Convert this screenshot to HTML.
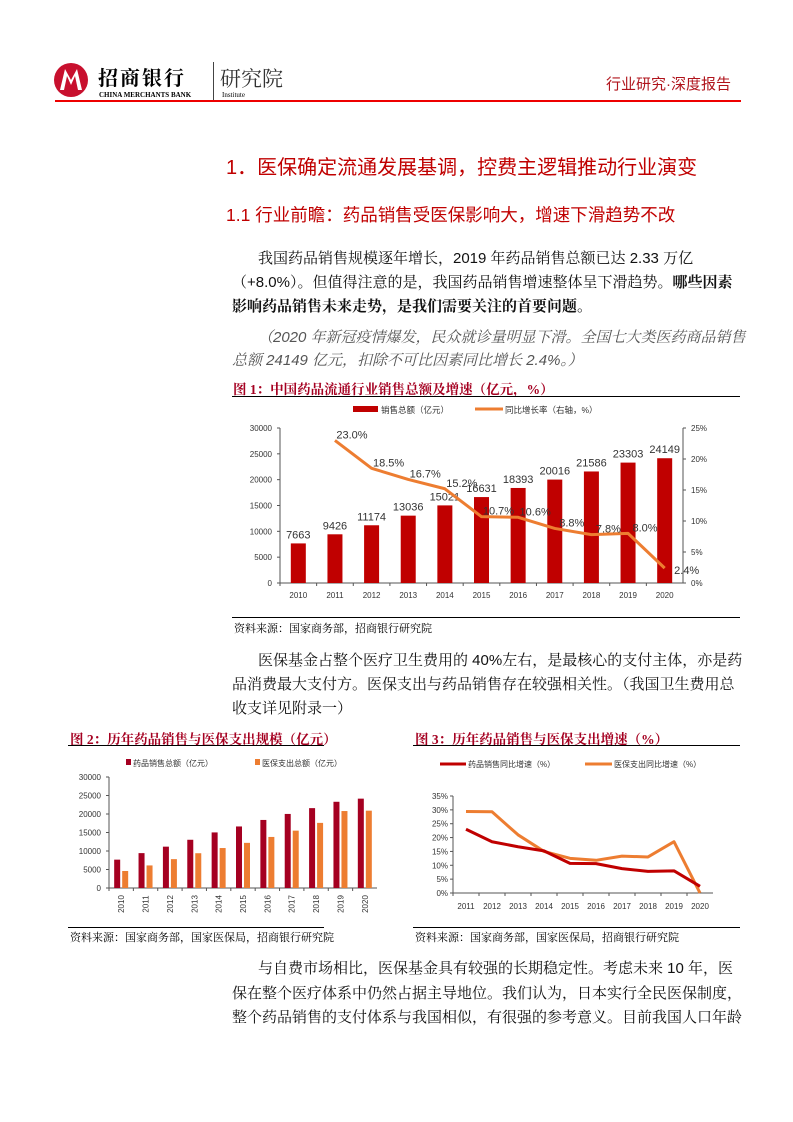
<!DOCTYPE html>
<html><head><meta charset="utf-8">
<style>
body{margin:0;width:793px;height:1122px;background:#fff;position:relative;overflow:hidden;font-family:"Liberation Sans","Noto Sans CJK SC",sans-serif;}
.a{position:absolute;white-space:nowrap;}
.p{font-family:"Liberation Sans","Noto Serif CJK SC",serif;font-size:15px;color:#111;}
.ft{font-family:"Liberation Serif","Noto Serif CJK SC",serif;font-size:13.5px;font-weight:bold;color:#a50021;}
.src{font-family:"Liberation Serif","Noto Serif CJK SC",serif;font-size:11px;color:#000;}
svg text{font-family:"Liberation Sans","Noto Sans CJK SC",sans-serif;}
</style></head><body>
<div>
<svg class="a" style="left:54px;top:60px" width="36" height="40">
<circle cx="17" cy="20" r="17" fill="#c8102e"/><path d="M6 30 L11 9 L17 20 L23 9 L28 30 Z" fill="#fff"/><path d="M10 30 L13 16 L17 25 L21 16 L24 30Z" fill="#c8102e"/></svg>
<div class="a" style="left:98px;top:62px;font-size:20px;font-weight:bold;font-family:'Noto Serif CJK SC',serif;letter-spacing:2px">招商银行</div>
<div class="a" style="left:99px;top:91px;font-size:7px;font-weight:bold;font-family:'Liberation Serif',serif">CHINA MERCHANTS BANK</div>
<div class="a" style="left:213px;top:62px;width:1px;height:38px;background:#444"></div>
<div class="a" style="left:220px;top:63px;font-size:21px;font-family:'Noto Serif CJK SC',serif;color:#333">研究院</div>
<div class="a" style="left:222px;top:91px;font-size:7px;font-family:'Liberation Serif',serif">Institute</div>
<div class="a" style="left:606px;top:73px;font-size:15px;color:#b0141c">行业研究·深度报告</div>
<div class="a" style="left:55px;top:100px;width:686px;height:2px;background:#e00"></div>
</div>
<div class="a" style="left:226px;top:151px;font-size:20px;color:#c00000">1．医保确定流通发展基调，控费主逻辑推动行业演变</div>
<div class="a" style="left:226px;top:202px;font-size:17.5px;color:#c00000">1.1 行业前瞻：药品销售受医保影响大，增速下滑趋势不改</div>
<div class="a p" style="left:258px;top:247px">我国药品销售规模逐年增长，2019 年药品销售总额已达 2.33 万亿</div>
<div class="a p" style="left:232px;top:271px">（+8.0%）。但值得注意的是，我国药品销售增速整体呈下滑趋势。<b>哪些因素</b></div>
<div class="a p" style="left:232px;top:295px;font-weight:bold">影响药品销售未来走势，是我们需要关注的首要问题。</div>
<div class="a p" style="left:258px;top:326px;font-style:italic;color:#555">（2020 年新冠疫情爆发，民众就诊量明显下滑。全国七大类医药商品销售</div>
<div class="a p" style="left:232px;top:349px;font-style:italic;color:#555">总额 24149 亿元，扣除不可比因素同比增长 2.4%。）</div>
<div class="a ft" style="left:233px;top:378px">图 1：中国药品流通行业销售总额及增速（亿元，%）</div>
<div class="a" style="left:232px;top:396px;width:508px;height:1px;background:#000"></div>
<svg id="c1" class="a" style="left:220px;top:398px" width="520" height="214"></svg>
<div class="a" style="left:232px;top:617px;width:508px;height:1px;background:#000"></div>
<div class="a src" style="left:234px;top:620px">资料来源：国家商务部，招商银行研究院</div>
<div class="a p" style="left:258px;top:649px">医保基金占整个医疗卫生费用的 40%左右，是最核心的支付主体，亦是药</div>
<div class="a p" style="left:232px;top:673px">品消费最大支付方。医保支出与药品销售存在较强相关性。（我国卫生费用总</div>
<div class="a p" style="left:232px;top:697px">收支详见附录一）</div>
<div class="a ft" style="left:70px;top:728px">图 2：历年药品销售与医保支出规模（亿元）</div>
<div class="a" style="left:68px;top:745px;width:256px;height:1px;background:#000"></div>
<div class="a ft" style="left:415px;top:728px">图 3：历年药品销售与医保支出增速（%）</div>
<div class="a" style="left:413px;top:745px;width:327px;height:1px;background:#000"></div>
<svg id="c2" class="a" style="left:60px;top:750px" width="330" height="175"></svg>
<svg id="c3" class="a" style="left:400px;top:750px" width="340" height="175"></svg>
<div class="a" style="left:68px;top:927px;width:256px;height:1px;background:#000"></div>
<div class="a" style="left:413px;top:927px;width:327px;height:1px;background:#000"></div>
<div class="a src" style="left:70px;top:929px">资料来源：国家商务部，国家医保局，招商银行研究院</div>
<div class="a src" style="left:415px;top:929px">资料来源：国家商务部，国家医保局，招商银行研究院</div>
<div class="a p" style="left:258px;top:957px">与自费市场相比，医保基金具有较强的长期稳定性。考虑未来 10 年，医</div>
<div class="a p" style="left:232px;top:982px">保在整个医疗体系中仍然占据主导地位。我们认为，日本实行全民医保制度，</div>
<div class="a p" style="left:232px;top:1006px">整个药品销售的支付体系与我国相似，有很强的参考意义。目前我国人口年龄</div>
<script>
const years=["2010","2011","2012","2013","2014","2015","2016","2017","2018","2019","2020"];
const sales=[7663,9426,11174,13036,15021,16631,18393,20016,21586,23303,24149];
const growth=[null,23.0,18.5,16.7,15.2,10.7,10.6,8.8,7.8,8.0,2.4];
const leftTicks=[0,5000,10000,15000,20000,25000,30000];
const rightTicks=[0,5,10,15,20,25];
const insSpend=[4600,6100,7800,9400,10800,12200,13800,15500,17600,20800,20900];
const years3=["2011","2012","2013","2014","2015","2016","2017","2018","2019","2020"];
const drugGrowth=[23.0,18.5,16.7,15.2,10.7,10.6,8.8,7.8,8.0,2.4];
const insGrowth=[29.4,29.3,21.0,15.0,12.5,11.8,13.3,13.0,18.5,0.0];
const pctTicks=[0,5,10,15,20,25,30,35];
const NS="http://www.w3.org/2000/svg";
function mk(p,t,a,txt){const e=document.createElementNS(NS,t);for(const k in a)e.setAttribute(k,a[k]);if(txt!==undefined)e.textContent=txt;p.appendChild(e);return e;}
(function(){const s=document.getElementById('c1');
const X0=60,X1=463,Y0=185,YT=30,bw=(X1-X0)/years.length;
const y=v=>Y0-(v/30000)*(Y0-YT), yr=v=>Y0-(v/25)*(Y0-YT), xc=i=>X0+bw*(i+0.5);
let e=mk(s,'rect',{x:133,y:8,width:25,height:6,fill:'#c00000'});
mk(s,'text',{x:161,y:15,'font-size':8.5,fill:'#333'},'销售总额（亿元）');
mk(s,'line',{x1:255,y1:11,x2:283,y2:11,stroke:'#ed7d31','stroke-width':3});
mk(s,'text',{x:285,y:15,'font-size':8.5,fill:'#333'},'同比增长率（右轴，%）');
leftTicks.forEach(v=>{mk(s,'text',{x:X0-8,y:y(v)+3,'font-size':8,fill:'#333','text-anchor':'end'},v);mk(s,'line',{x1:X0-3,x2:X0,y1:y(v),y2:y(v),stroke:'#555'});});
rightTicks.forEach(v=>{mk(s,'text',{x:X1+8,y:yr(v)+3,'font-size':8,fill:'#333'},v+'%');mk(s,'line',{x1:X1,x2:X1+3,y1:yr(v),y2:yr(v),stroke:'#555'});});
mk(s,'line',{x1:X0,x2:X0,y1:YT,y2:Y0,stroke:'#555'});mk(s,'line',{x1:X1,x2:X1,y1:YT,y2:Y0,stroke:'#555'});mk(s,'line',{x1:X0,x2:X1,y1:Y0,y2:Y0,stroke:'#555'});
years.forEach((yy,i)=>{mk(s,'line',{x1:X0+bw*i,x2:X0+bw*i,y1:Y0,y2:Y0+3,stroke:'#555'});mk(s,'text',{x:xc(i),y:Y0+15,'font-size':8,fill:'#333','text-anchor':'middle'},yy);
const b=mk(s,'rect',{x:xc(i)-7.5,y:y(sales[i]),width:15,height:Y0-y(sales[i]),fill:'#c00000'});
mk(s,'text',{x:xc(i),y:y(sales[i])-5,'font-size':11,fill:'#333','text-anchor':'middle'},sales[i]);});
let pts=[];growth.forEach((g,i)=>{if(g!==null)pts.push(xc(i)+','+yr(g));});
const l=mk(s,'polyline',{points:pts.join(' '),fill:'none',stroke:'#ed7d31','stroke-width':3,'stroke-linejoin':'round'});
growth.forEach((g,i)=>{if(g!==null)mk(s,'text',{x:xc(i)+(i==10?22:17),y:yr(g)+(i==10?6:-2),'font-size':11,fill:'#333','text-anchor':'middle'},g.toFixed(1)+'%');});
})();
(function(){const s=document.getElementById('c2');
const X0=49,X1=317,Y0=138,YT=27,bw=(X1-X0)/years.length;
const y=v=>Y0-(v/30000)*(Y0-YT), xc=i=>X0+bw*(i+0.5);
mk(s,'rect',{x:66,y:9,width:5,height:6,fill:'#a50021'});mk(s,'text',{x:73,y:16,'font-size':8,fill:'#333'},'药品销售总额（亿元）');
mk(s,'rect',{x:195,y:9,width:5,height:6,fill:'#ed7d31'});mk(s,'text',{x:202,y:16,'font-size':8,fill:'#333'},'医保支出总额（亿元）');
leftTicks.forEach(v=>{mk(s,'text',{x:X0-8,y:y(v)+3,'font-size':8,fill:'#333','text-anchor':'end'},v);mk(s,'line',{x1:X0-3,x2:X0,y1:y(v),y2:y(v),stroke:'#555'});});
mk(s,'line',{x1:X0,x2:X0,y1:YT,y2:Y0,stroke:'#555'});mk(s,'line',{x1:X0,x2:X1,y1:Y0,y2:Y0,stroke:'#555'});
years.forEach((yy,i)=>{mk(s,'line',{x1:X0+bw*i,x2:X0+bw*i,y1:Y0,y2:Y0+3,stroke:'#555'});
mk(s,'text',{x:0,y:0,'font-size':8,fill:'#333','text-anchor':'middle',transform:`translate(${xc(i)+3},${Y0+16}) rotate(-90)`},yy);
const b=mk(s,'rect',{x:xc(i)-7,y:y(sales[i]),width:6,height:Y0-y(sales[i]),fill:'#a50021'});
const c=mk(s,'rect',{x:xc(i)+1,y:y(insSpend[i]),width:6,height:Y0-y(insSpend[i]),fill:'#ed7d31'});});
})();
(function(){const s=document.getElementById('c3');
const X0=53,X1=313,Y0=143,YT=46,bw=(X1-X0)/years3.length;
const y=v=>Y0-(v/35)*(Y0-YT), xc=i=>X0+bw*(i+0.5);
mk(s,'line',{x1:40,x2:66,y1:14,y2:14,stroke:'#c00000','stroke-width':3});mk(s,'text',{x:68,y:17,'font-size':8,fill:'#333'},'药品销售同比增速（%）');
mk(s,'line',{x1:185,x2:212,y1:14,y2:14,stroke:'#ed7d31','stroke-width':3});mk(s,'text',{x:214,y:17,'font-size':8,fill:'#333'},'医保支出同比增速（%）');
pctTicks.forEach(v=>{mk(s,'text',{x:X0-5,y:y(v)+3,'font-size':8,fill:'#333','text-anchor':'end'},v+'%');mk(s,'line',{x1:X0-3,x2:X0,y1:y(v),y2:y(v),stroke:'#555'});});
mk(s,'line',{x1:X0,x2:X0,y1:YT,y2:Y0,stroke:'#555'});mk(s,'line',{x1:X0,x2:X1,y1:Y0,y2:Y0,stroke:'#555'});
years3.forEach((yy,i)=>{mk(s,'line',{x1:X0+bw*i,x2:X0+bw*i,y1:Y0,y2:Y0+3,stroke:'#555'});mk(s,'text',{x:xc(i),y:Y0+16,'font-size':8,fill:'#333','text-anchor':'middle'},yy);});
const l2=mk(s,'polyline',{points:insGrowth.map((v,i)=>xc(i)+','+y(v)).join(' '),fill:'none',stroke:'#ed7d31','stroke-width':3,'stroke-linejoin':'round'});
const l1=mk(s,'polyline',{points:drugGrowth.map((v,i)=>xc(i)+','+y(v)).join(' '),fill:'none',stroke:'#c00000','stroke-width':3,'stroke-linejoin':'round'});
})();
</script>
</body></html>
